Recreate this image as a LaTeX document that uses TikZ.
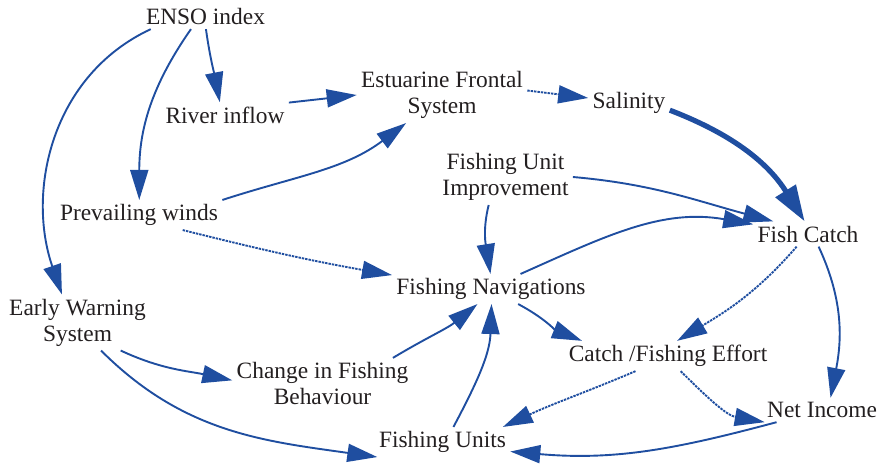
\documentclass[tikz,border=0pt]{standalone}
\usepackage{fontspec}
\setmainfont{Liberation Serif}
\usepackage{xcolor}
\usetikzlibrary{arrows.meta}
\definecolor{cldblue}{RGB}{31,78,160}
\definecolor{cldtext}{RGB}{35,31,32}
\def\cldvar#1#2#3{
	\node[var] (#1) at (#2) {#3};}

\begin{document}
\begin{tikzpicture}[x=.5pt,y=.5pt,font=\fontsize{11.7}{13}\selectfont,
	var/.style={align=center,inner sep=2pt,text=cldtext},
	link/.style={draw=cldblue,line width=.95pt,-{Triangle[length=15pt,width=9pt]}},
	weak/.style={link,dash pattern=on 1.2pt off .5pt},
	strong/.style={link,line width=2.6pt,-{Triangle[length=18pt,width=11.5pt]}}]
	\useasboundingbox (0,0) rectangle (881,-470);
	%变量节点
	\cldvar{enso}{205.5,-16.5}{ENSO index}
	\cldvar{river}{225,-115}{River inflow}
	\cldvar{est}{442,-95}{Estuarine Frontal\\System}
	\cldvar{sal}{629,-103}{Salinity}
	\cldvar{fui}{505.5,-177}{Fishing Unit\\Improvement}
	\cldvar{wind}{139,-215}{Prevailing winds}
	\cldvar{fish}{808,-234}{Fish Catch}
	\cldvar{nav}{491,-289}{Fishing Navigations}
	\cldvar{ews}{77.5,-322.5}{Early Warning\\System}
	\cldvar{change}{322.5,-383.5}{Change in Fishing\\Behaviour}
	\cldvar{effort}{668,-356}{Catch /Fishing Effort}
	\cldvar{net}{822,-410}{Net Income}
	\cldvar{units}{442.5,-442}{Fishing Units}
	
	%ENSO 的影响
	\draw[link] (enso.-88) to[out=-82,in=101] (river.112);
	\draw[link] (enso.-139) to[out=-125,in=90] (wind.89);
	\draw[link] (enso.193) to[out=205,in=109] (ews.119);
	\draw[link] (river.11) -- (est.west);
	\draw[link] (wind.north east) to[out=18,in=217] (est.-142);
	\draw[weak] (est.3) -- (sal.173);
	%盐度到渔获,粗线
	\draw[strong] (sal.-10) to[out=-21,in=122] (fish.105);
	\draw[link] (fui.east) to[out=-5,in=165] (fish.160);
	\draw[link] (fui.-121) to[out=-104,in=99] (nav.92);
	\draw[weak] (wind.-19) to[out=-14,in=170] (nav.172);
	\draw[link] (nav.27) to[out=24,in=170] (fish.170);
	\draw[link] (nav.-29) to[out=-28,in=158] (effort.170);
	\draw[weak] (fish.-132) to[out=-131,in=31] (effort.59);
	\draw[link] (fish.-50) to[out=-65,in=79] (net.55);
	%预警系统
	\draw[link] (ews.-33) to[out=-25,in=168] (change.178);
	\draw[link] (ews.-50) to[out=-45,in=172] (units.193);
	\draw[link] (change.20) to[out=31,in=-141] (nav.-132);
	\draw[link] (units.54) to[out=62,in=-92] (nav.-88);
	\draw[weak] (effort.-155) to[out=-157,in=25] (units.14);
	\draw[weak] (effort.-50) to[out=-45,in=170] (net.192);
	\draw[link] (net.-165) to[out=195,in=-5] (units.-8);
\end{tikzpicture}
\end{document}
